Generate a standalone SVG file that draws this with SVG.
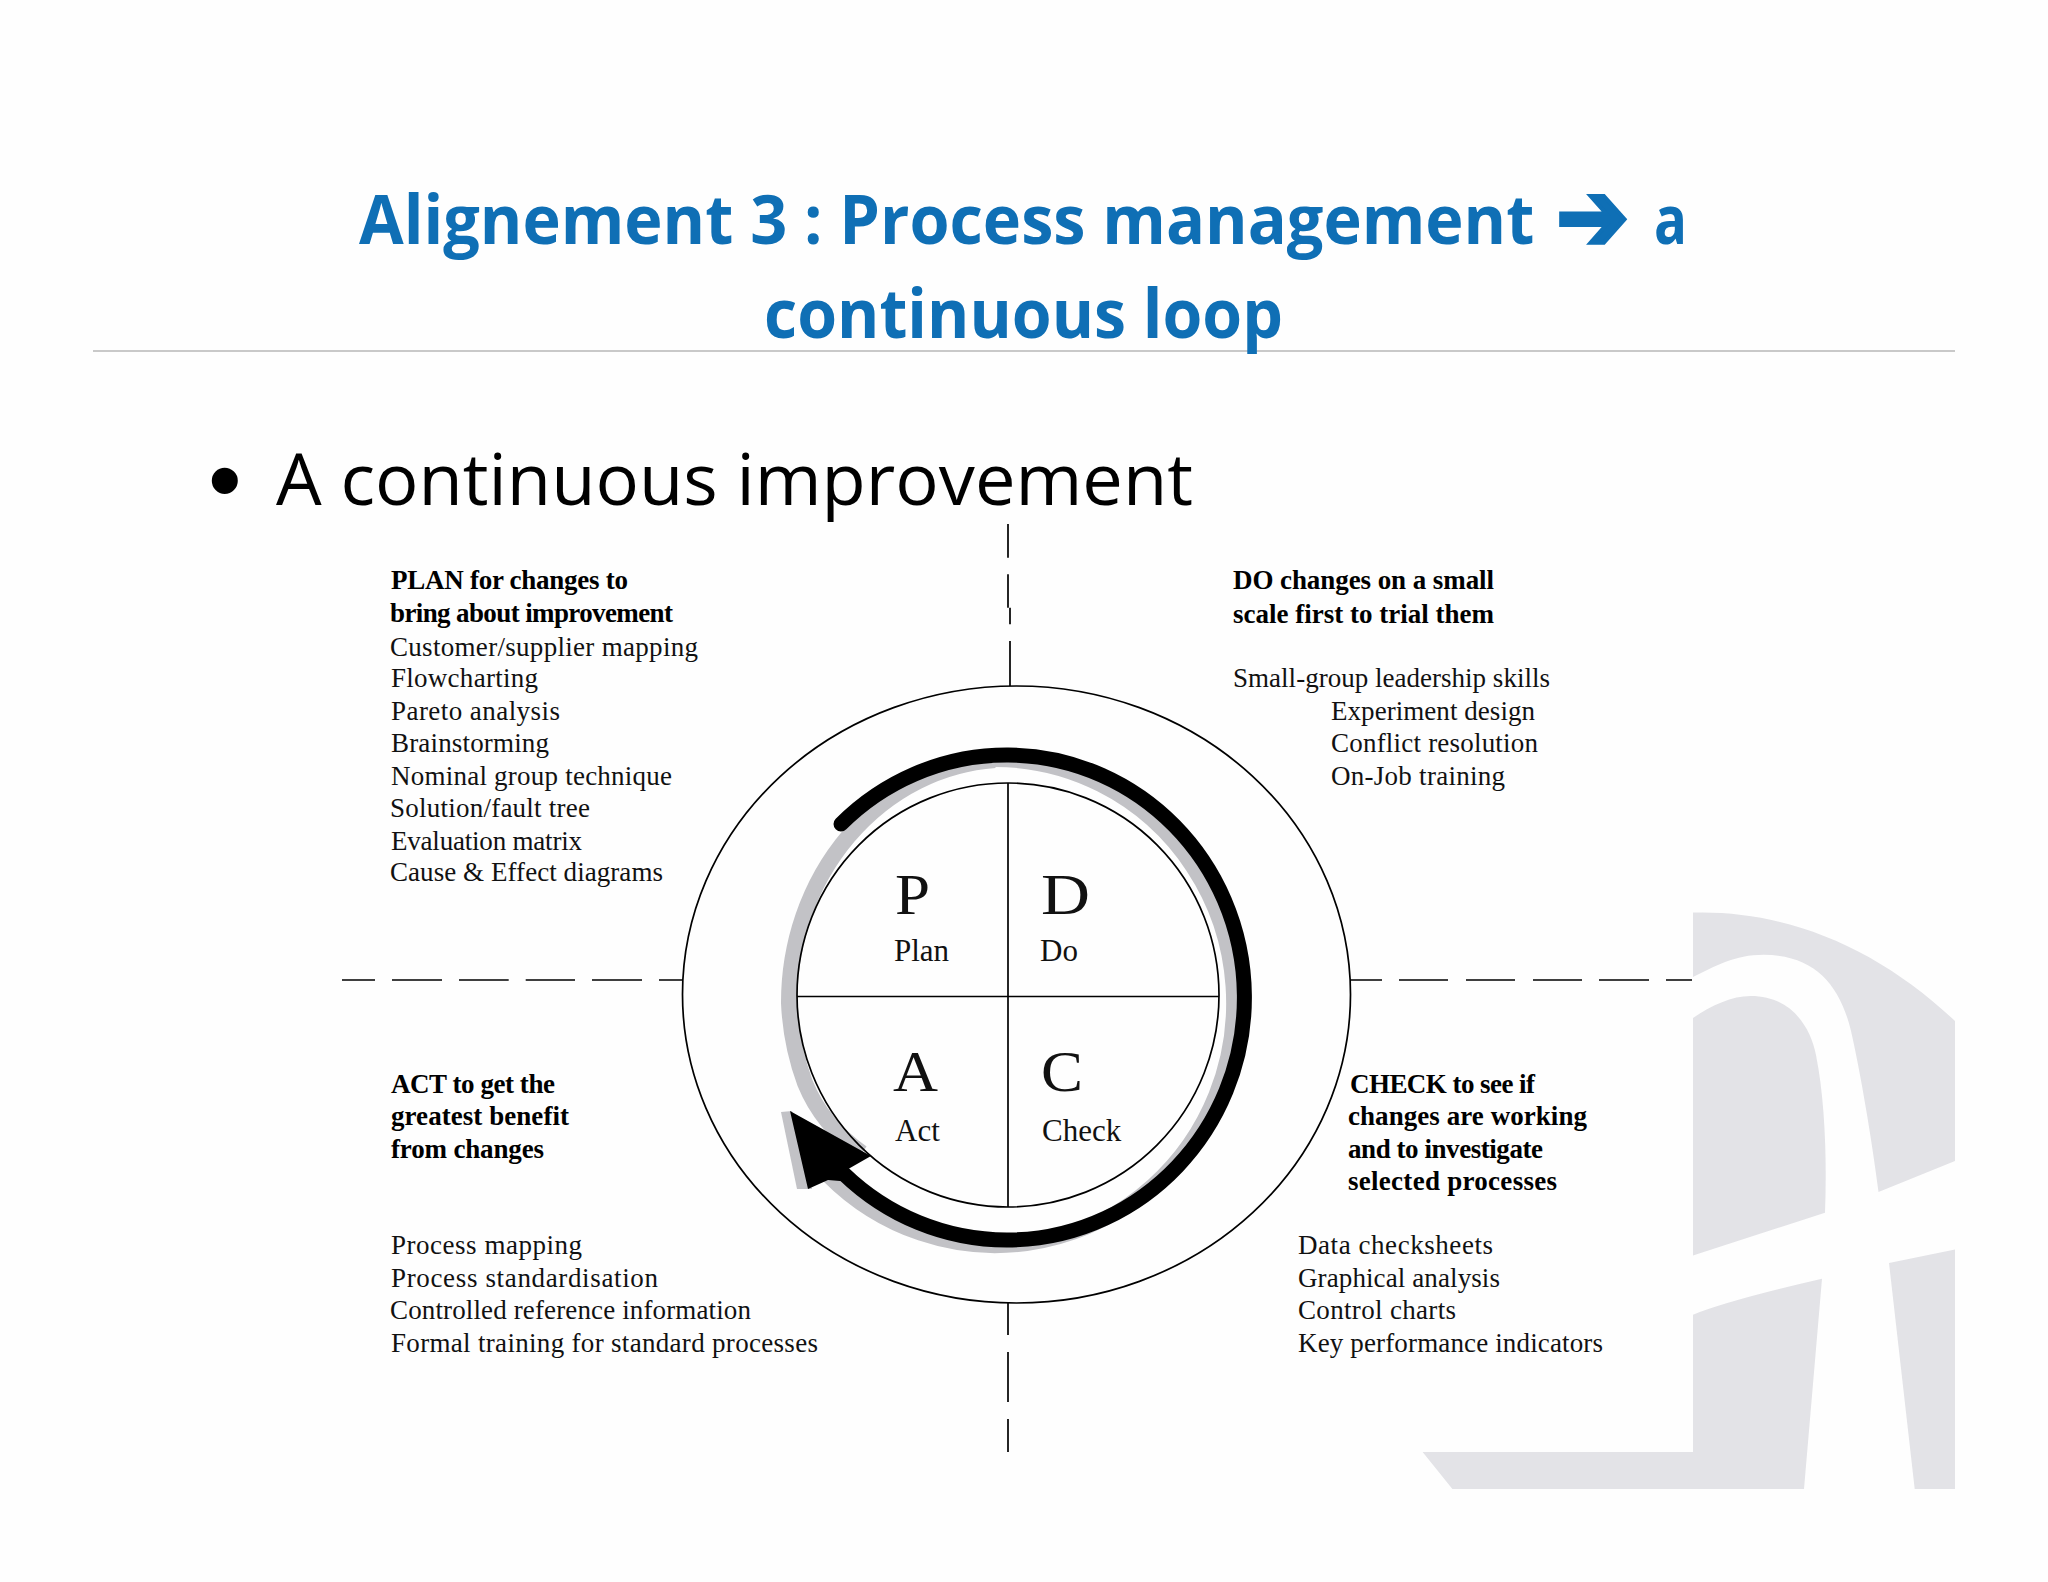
<svg xmlns="http://www.w3.org/2000/svg" width="2048" height="1582" viewBox="0 0 2048 1582">
<style>
.h{font-family:"Open Sans","Noto Sans",sans-serif;font-weight:700;font-size:68px;fill:#0f6fb5}
.p{font-family:"Open Sans","Noto Sans",sans-serif;font-size:71px;fill:#000}
.b{font-family:"Liberation Serif",serif;font-weight:700;font-size:27px;fill:#000}
.r{font-family:"Liberation Serif",serif;font-size:27px;fill:#111}
.L{font-family:"Liberation Serif",serif;font-size:58px;fill:#111}
.s{font-family:"Liberation Serif",serif;font-size:31px;fill:#111}
.wm{fill:#e3e3e7}
.ln{fill:none;stroke:#000;stroke-width:1.7}
</style>
<rect width="2048" height="1582" fill="#fefefe"/>
<g id="watermark">
<path class="wm" d="M1693 912.6C1790 910 1880 950 1955 1021L1955 1161L1878.5 1192C1872 1140 1860 1070 1851 1031C1840 985 1815 955 1763.5 954.7C1735 954.7 1715 966 1693 977Z"/>
<path class="wm" d="M1693 1018C1712 1005 1732 996 1750.7 996C1790 996 1810 1025 1816 1055C1825 1100 1827 1160 1825 1212.7L1693 1255.5Z"/>
<path class="wm" d="M1693 1314.7Q1730 1300 1822 1278.8L1804 1489L1452.4 1489L1422.6 1452L1693 1452Z"/>
<path class="wm" d="M1889 1262.9L1955 1249.4L1955 1489L1914.7 1489Z"/>
</g>
<g id="title">
<line x1="93" y1="351" x2="1955" y2="351" stroke="#c9c9c9" stroke-width="2"/>
<text class="h" transform="translate(359 244) scale(0.953 1)">Alignement 3 : Process management</text>
<text x="1556" y="250" textLength="73" lengthAdjust="spacingAndGlyphs" style="font-family:'DejaVu Sans',sans-serif;font-size:98px;fill:#0f6fb5;stroke:#0f6fb5;stroke-width:4;stroke-linejoin:miter">➔</text>
<text class="h" x="1654" y="244" textLength="33" lengthAdjust="spacingAndGlyphs">a</text>
<text class="h" x="764" y="338" textLength="519" lengthAdjust="spacingAndGlyphs">continuous loop</text>
</g>
<g id="bullet">
<text x="208" y="513" style="font-family:'Liberation Sans',sans-serif;font-size:96px;fill:#000">•</text>
<text class="p" x="276" y="505" textLength="917" lengthAdjust="spacingAndGlyphs">A continuous improvement</text>
</g>
<g id="connectors">
<path class="ln" d="M1008 524V557.7M1008 574.3V607.7M1010 607.7V624.3M1010 641V686"/>
<path class="ln" d="M1008 1303V1335M1008 1352V1402M1008 1419V1452"/>
<path class="ln" d="M342 980H375M392 980H442M459 980H508.7M525.7 980H575M592 980H642M659 980H683"/>
<path class="ln" d="M1350 980H1382M1399 980H1448M1466 980H1515M1533 980H1582M1599 980H1649M1666 980H1692"/>
</g>
<g id="cycle">
<ellipse class="ln" cx="1016.5" cy="994.5" rx="334" ry="308.5" stroke-width="1.5"/>
<path fill="none" stroke="#c2c2c6" stroke-width="14" d="M828 1176A238 243 0 1 0 995 760"/>
<path fill="none" stroke="#c2c2c6" stroke-width="16" d="M995 760A220 243 0 0 0 789 1003A220 243 0 0 0 805 1083Q822 1125 862 1153"/>
<path fill="#c2c2c6" d="M781 1112L792 1111L812 1189L797 1189Z"/>
<ellipse class="ln" cx="1008" cy="995" rx="211" ry="212"/>
<path class="ln" d="M1008 783V1207M797 996.5H1219"/>
<path fill="none" stroke="#000" stroke-width="15" stroke-linecap="round" d="M844 1174A237.5 242.5 0 1 0 841 824"/>
<path fill="#000" d="M790 1111L871 1156L843 1172L852 1182L828 1180L808 1189Z"/>
</g>
<g id="quadrant-plan">
<text class="L" x="895" y="914" textLength="35" lengthAdjust="spacingAndGlyphs">P</text><text class="s" x="894" y="961">Plan</text>
</g>
<g id="quadrant-do">
<text class="L" x="1041" y="914" textLength="49" lengthAdjust="spacingAndGlyphs">D</text><text class="s" x="1040" y="961">Do</text>
</g>
<g id="quadrant-act">
<text class="L" x="893" y="1091" textLength="45" lengthAdjust="spacingAndGlyphs">A</text><text class="s" x="895" y="1141">Act</text>
</g>
<g id="quadrant-check">
<text class="L" x="1041" y="1091" textLength="42" lengthAdjust="spacingAndGlyphs">C</text><text class="s" x="1042" y="1141">Check</text>
</g>
<g id="plan-text">
<text class="b" x="391" y="589" textLength="237">PLAN for changes to</text>
<text class="b" x="390" y="622" textLength="283">bring about improvement</text>
<text class="r" x="390" y="656" textLength="308">Customer/supplier mapping</text>
<text class="r" x="391" y="687" textLength="147">Flowcharting</text>
<text class="r" x="391" y="720" textLength="169">Pareto analysis</text>
<text class="r" x="391" y="752" textLength="158">Brainstorming</text>
<text class="r" x="391" y="785" textLength="281">Nominal group technique</text>
<text class="r" x="390" y="816.5" textLength="200">Solution/fault tree</text>
<text class="r" x="391" y="849.5" textLength="191">Evaluation matrix</text>
<text class="r" x="390" y="881" textLength="273">Cause &amp; Effect diagrams</text>
</g>
<g id="do-text">
<text class="b" x="1233" y="589" textLength="261">DO changes on a small</text>
<text class="b" x="1233" y="622.7" textLength="261">scale first to trial them</text>
<text class="r" x="1233" y="686.7" textLength="317">Small-group leadership skills</text>
<text class="r" x="1331" y="720" textLength="204">Experiment design</text>
<text class="r" x="1331" y="752" textLength="207">Conflict resolution</text>
<text class="r" x="1331" y="785" textLength="174">On-Job training</text>
</g>
<g id="act-text">
<text class="b" x="391" y="1093.3" textLength="164">ACT to get the</text>
<text class="b" x="391" y="1125" textLength="178">greatest benefit</text>
<text class="b" x="391" y="1157.7" textLength="153">from changes</text>
<text class="r" x="391" y="1254" textLength="191">Process mapping</text>
<text class="r" x="391" y="1286.7" textLength="267">Process standardisation</text>
<text class="r" x="390" y="1319" textLength="361">Controlled reference information</text>
<text class="r" x="391" y="1351.7" textLength="427">Formal training for standard processes</text>
</g>
<g id="check-text">
<text class="b" x="1350" y="1093.3" textLength="185">CHECK to see if</text>
<text class="b" x="1348" y="1125" textLength="239">changes are working</text>
<text class="b" x="1348" y="1157.7" textLength="195">and to investigate</text>
<text class="b" x="1348" y="1190" textLength="209">selected processes</text>
<text class="r" x="1298" y="1254" textLength="195">Data checksheets</text>
<text class="r" x="1298" y="1286.7" textLength="202">Graphical analysis</text>
<text class="r" x="1298" y="1319" textLength="158">Control charts</text>
<text class="r" x="1298" y="1351.7" textLength="305">Key performance indicators</text>
</g>
</svg>
